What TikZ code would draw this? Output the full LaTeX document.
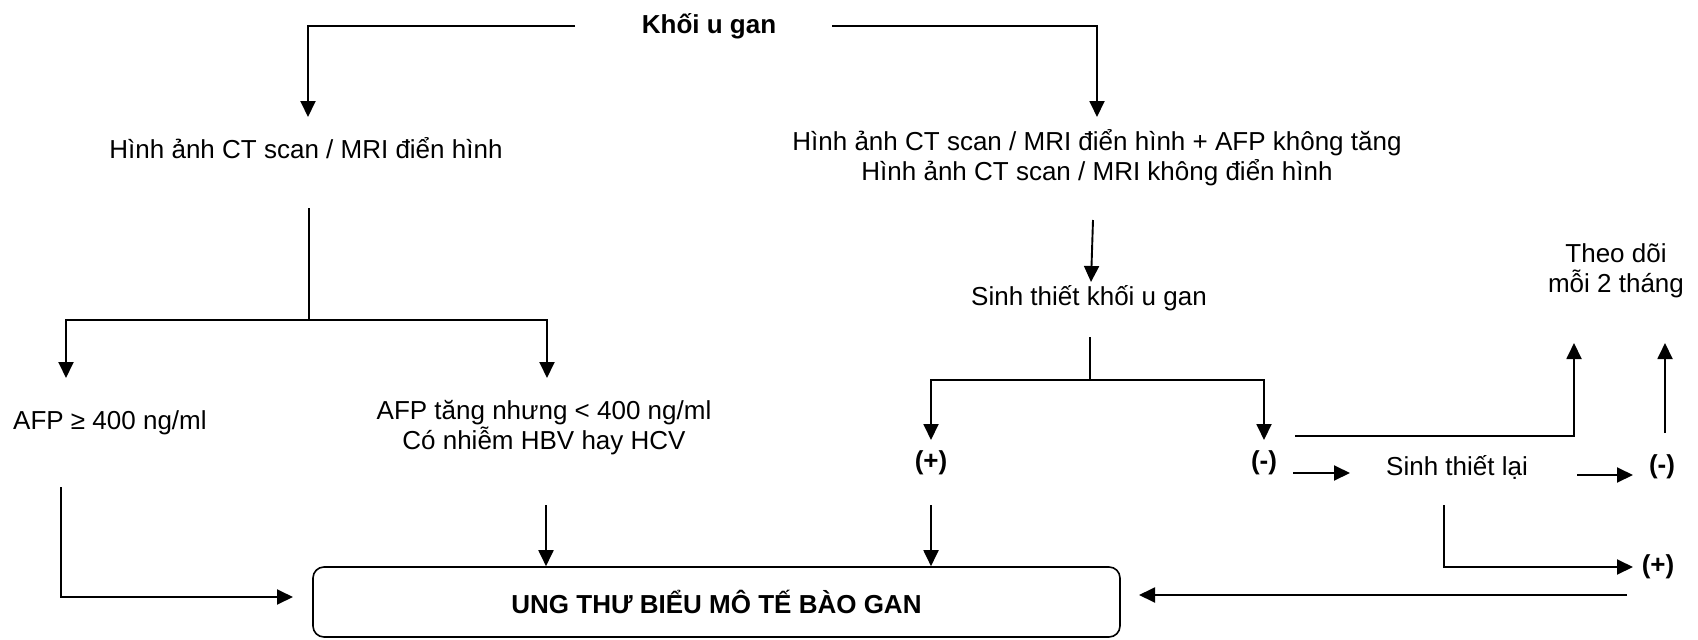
\documentclass[tikz,border=0pt]{standalone}
\usepackage{fontspec}
\setmainfont{Liberation Sans}
\usetikzlibrary{arrows.meta}
\newcommand\fsz{\fontsize{26}{30}\selectfont}
\begin{document}
\begin{tikzpicture}[x=1pt,y=-1pt,
  ln/.style={line width=1.9pt},
  arr/.style={ln,-{Triangle[length=16pt,width=15pt]}},
  txt/.style={font=\fsz, inner sep=0pt, align=center},
  btxt/.style={font=\fsz\bfseries, inner sep=0pt, align=center},
  box/.style={draw, line width=1.6pt, rounded corners=11pt, minimum width=807pt, minimum height=70pt, inner sep=0pt, font=\fsz\bfseries}]
\useasboundingbox (0,0) rectangle (1698,640);

% texts
\node[btxt] (khoi) at (709,26) {Khối u gan};
\node[txt] (ctL) at (306,148) {Hình ảnh CT scan / MRI điển hình};
\node[txt] (ctR) at (1097,158) {Hình ảnh CT scan / MRI điển hình + AFP không tăng\\Hình ảnh CT scan / MRI không điển hình};
\node[txt, anchor=west] (afp1) at (13,423) {AFP ≥ 400 ng/ml};
\node[txt] (afp2) at (544,428) {AFP tăng nhưng < 400 ng/ml\\Có nhiễm HBV hay HCV};
\node[txt] (stk) at (1089,298) {Sinh thiết khối u gan};
\node[btxt] (pos1) at (931,463) {(+)};
\node[btxt] (neg1) at (1264,463) {(-)};
\node[txt] (stl) at (1457,467) {Sinh thiết lại};
\node[btxt] (neg2) at (1662,467) {(-)};
\node[btxt] (pos2) at (1658,567) {(+)};
\node[txt] (theo) at (1616,271) {Theo dõi\\mỗi 2 tháng};
\node[box] (hcc) at (716.5,602) {UNG THƯ BIỂU MÔ TẾ BÀO GAN};

% connector end points
\coordinate (k1) at (575,26);
\coordinate (k2) at (832,26);
\coordinate (a1) at (308,117);
\coordinate (a2) at (1097,117);
\coordinate (b0) at (309,208);
\coordinate (b1) at (309,320);
\coordinate (c1) at (66,378);
\coordinate (c2) at (547,378);
\coordinate (d0) at (61,487);
\coordinate (d1) at (293,597);
\coordinate (e0) at (546,505);
\coordinate (f0) at (1093,220);
\coordinate (f1) at (1091,282);
\coordinate (g0) at (1090,337);
\coordinate (g1) at (1090,380);
\coordinate (g2) at (931,440);
\coordinate (g3) at (1264,440);
\coordinate (h0) at (931,505);
\coordinate (i0) at (1295,436);
\coordinate (i1) at (1574,343);
\coordinate (j0) at (1293,473);
\coordinate (j1) at (1350,473);
\coordinate (m0) at (1577,475);
\coordinate (m1) at (1633,475);
\coordinate (n0) at (1665,433);
\coordinate (n1) at (1665,343);
\coordinate (p0) at (1444,505);
\coordinate (p1) at (1633,567);
\coordinate (q0) at (1627,595);
\coordinate (q1) at (1139,595);

% connectors
\draw[arr] (k1) -| (a1);
\draw[arr] (k2) -| (a2);
\draw[ln] (b0) -- (b1);
\draw[arr] (b1) -| (c1);
\draw[arr] (b1) -| (c2);
\draw[arr] (d0) |- (d1);
\draw[arr] (e0) -- (e0 |- hcc.north);
\draw[arr] (f0) -- (f1);
\draw[ln] (g0) -- (g1);
\draw[arr] (g1) -| (g2);
\draw[arr] (g1) -| (g3);
\draw[arr] (h0) -- (h0 |- hcc.north);
\draw[arr] (i0) -| (i1);
\draw[arr] (j0) -- (j1);
\draw[arr] (m0) -- (m1);
\draw[arr] (n0) -- (n1);
\draw[arr] (p0) |- (p1);
\draw[arr] (q0) -- (q1);
\end{tikzpicture}
\end{document}
